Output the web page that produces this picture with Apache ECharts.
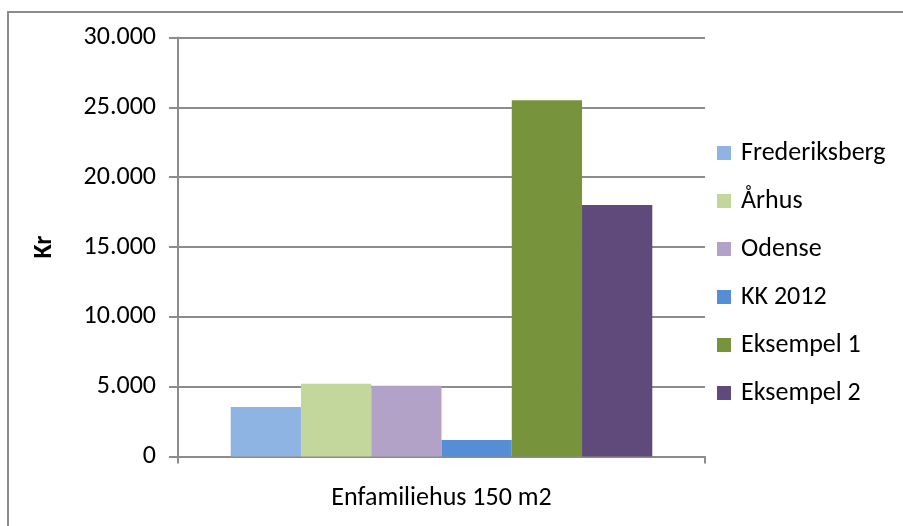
<!DOCTYPE html>
<html>
<head>
<meta charset="utf-8">
<script src="https://cdn.jsdelivr.net/npm/echarts@6/dist/echarts.min.js"></script>
<style>
  html, body { margin: 0; padding: 0; background: #fff; }
  #chart { width: 903px; height: 526px; }
</style>
</head>
<body>
<div id="chart"></div>
<script>
// Category shown on the x axis
const categories = ['Enfamiliehus 150 m2'];

// One bar per municipality / example (Kr)
const seriesNames = ['Frederiksberg', 'Århus', 'Odense', 'KK 2012', 'Eksempel 1', 'Eksempel 2'];
const seriesValues = [3550, 5200, 5070, 1180, 25500, 18000];
const seriesColors = ['#8EB4E3', '#C3D69B', '#B3A2C7', '#558ED5', '#77933C', '#604A7B'];

// Value axis
const yMin = 0;
const yMax = 30000;
const yStep = 5000;
const yAxisTitle = 'Kr';

const FONT = 'Carlito, Calibri, Lato, sans-serif';
const FONT_SIZE = 26;
const GRID_COLOR = '#8c8c8c';

function thousands(v) {
  return String(v).replace(/\B(?=(\d{3})+(?!\d))/g, '.');
}

const chart = echarts.init(document.getElementById('chart'), null, { renderer: 'canvas' });

chart.setOption({
  animation: false,
  backgroundColor: '#ffffff',
  textStyle: { fontFamily: FONT },
  graphic: [{
    type: 'rect',
    shape: { x: 8, y: 12, width: 1000, height: 1000 },
    style: { fill: 'none', stroke: GRID_COLOR, lineWidth: 2 },
    silent: true
  }],
  grid: { left: 178, right: 198, top: 37.5, bottom: 69.5, containLabel: false },
  legend: {
    orient: 'vertical',
    left: 712,
    top: 135,
    itemWidth: 14,
    itemHeight: 14,
    itemGap: 22,
    icon: 'rect',
    data: seriesNames,
    textStyle: { fontFamily: FONT, fontSize: FONT_SIZE, color: '#000', padding: [0, 0, 0, 5] }
  },
  xAxis: {
    type: 'category',
    data: categories,
    boundaryGap: true,
    axisLine: { show: true, lineStyle: { color: GRID_COLOR, width: 2 } },
    axisTick: { show: true, length: 7, alignWithLabel: false, lineStyle: { color: GRID_COLOR, width: 2 } },
    axisLabel: { fontFamily: FONT, fontSize: FONT_SIZE, color: '#000', margin: 29 }
  },
  yAxis: {
    type: 'value',
    min: yMin,
    max: yMax,
    interval: yStep,
    name: yAxisTitle,
    nameLocation: 'middle',
    nameGap: 121,
    nameTextStyle: { fontFamily: FONT, fontSize: FONT_SIZE, fontWeight: 'bold', color: '#000' },
    axisLine: { show: true, lineStyle: { color: GRID_COLOR, width: 2 } },
    axisTick: { show: true, length: 9, lineStyle: { color: GRID_COLOR, width: 2 } },
    splitLine: { show: true, lineStyle: { color: GRID_COLOR, width: 2 } },
    axisLabel: {
      fontFamily: FONT, fontSize: FONT_SIZE, color: '#000', margin: 22,
      formatter: v => thousands(v)
    }
  },
  series: seriesNames.map((name, i) => ({
    name: name,
    type: 'bar',
    data: [seriesValues[i]],
    barGap: '0%',
    barCategoryGap: '20%',
    itemStyle: { color: seriesColors[i] }
  }))
});
</script>
</body>
</html>
